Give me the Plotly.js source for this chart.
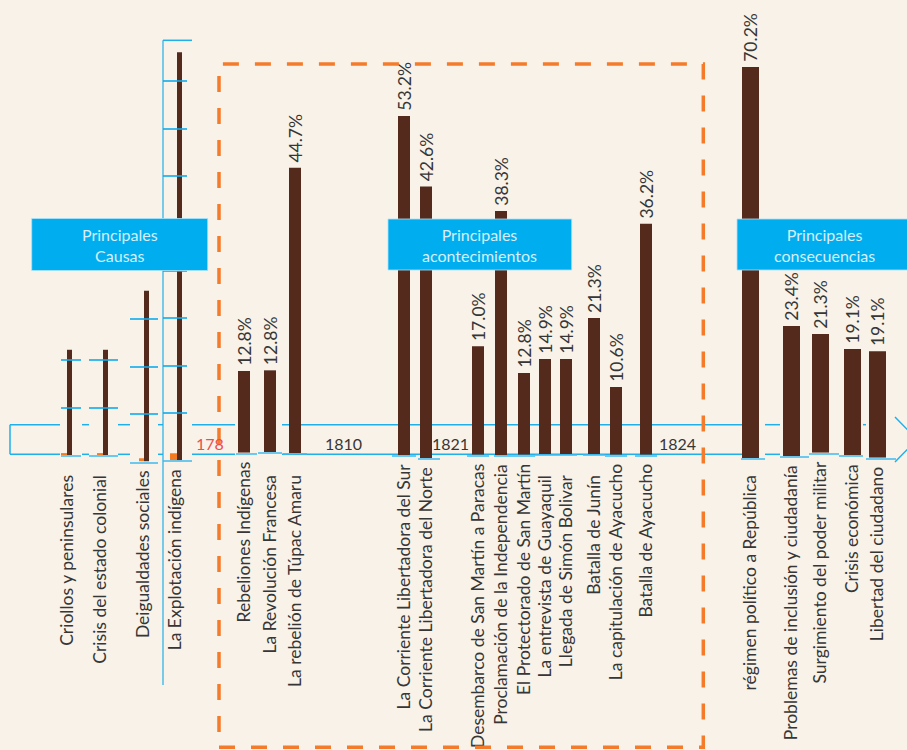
<!DOCTYPE html>
<html>
<head>
<meta charset="utf-8">
<script src="https://cdn.plot.ly/plotly-3.0.1.min.js"></script>
<style>
html,body{margin:0;padding:0;background:#f8f2e9;}
#chart{width:907px;height:750px;}
</style>
</head>
<body>
<div id="chart"></div>
<script>
// ---------------- DATA ----------------
const causeLabels = ['Criollos y peninsulares', 'Crisis del estado colonial', 'Deigualdades sociales', 'La Explotación indígena'];
const causeValues = [22.2, 22.2, 36.0, 86.1];
const causeMinorValues = [0.4, 0.4, 0.7, 1.5];

const eventLabels = ['Rebeliones Indígenas', 'La Revolución Francesa', 'La rebelión de Túpac Amaru',
  'La Corriente Libertadora del Sur', 'La Corriente Libertadora del Norte',
  'Desembarco de San Martín a Paracas', 'Proclamación de la Independencia', 'El Protectorado de San Martín',
  'La entrevista de Guayaquil', 'Llegada de Simón Bolivar', 'Batalla de Junín',
  'La capitulación de Ayacucho', 'Batalla de Ayacucho'];
const eventValues = [12.8, 12.8, 44.7, 53.2, 42.6, 17.0, 38.3, 12.8, 14.9, 14.9, 21.3, 10.6, 36.2];

const consLabels = ['régimen político a República', 'Problemas de inclusión y ciudadanía',
  'Surgimiento del poder militar', 'Crisis económica', 'Libertad del ciudadano'];
const consValues = [70.2, 23.4, 21.3, 19.1, 19.1];

const yearLabels = ['178', '1810', '1821', '1824'];
const groupTitles = ['Principales<br>Causas', 'Principales<br>acontecimientos', 'Principales<br>consecuencias'];

// ---------------- LAYOUT GEOMETRY (pixels) ----------------
const W = 907, H = 750, U = 24;
const X = p => p / W;
const Y = p => 1 - p / H;

const causeGeom = [
  {d:[61,81],   c:67,  base:455,   top:345,  minor:[61,67],   main:[67,72],   tl:20},
  {d:[89,118],  c:100, base:455,   top:345,  minor:[97,103],  main:[103,108], tl:29},
  {d:[130,158], c:143, base:461.5, top:285,  minor:[139,144], main:[144,149], tl:28},
  {d:[163,192], c:175, base:460.3, top:40.3, minor:[170,177], main:[177,182], tl:24}
];
const eventGeom = [
  {d:[236,257], bar:[238,250], base:452.7},
  {d:[258,282], bar:[264,276], base:452},
  {d:[283,307], bar:[289,301], base:453},
  {d:[392,416], bar:[398,410], base:455.3},
  {d:[418,440], bar:[420,432], base:458.3},
  {d:[467,489], bar:[472,484], base:454.7},
  {d:[494,514], bar:[495,507], base:455.3},
  {d:[514,535], bar:[518,530], base:454.7},
  {d:[535,556], bar:[539,551], base:454},
  {d:[556,577], bar:[560,572], base:454},
  {d:[583,605], bar:[588,600], base:454},
  {d:[605,627], bar:[610,622], base:454.7},
  {d:[635,657], bar:[640,652], base:454.7}
];
const consGeom = [
  {d:[741,765], bar:[742,759], base:458},
  {d:[780,809], bar:[783,800], base:456.3},
  {d:[809,839], bar:[812,829], base:452.7},
  {d:[839,863], bar:[844,861], base:455.3},
  {d:[866,896], bar:[869,886], base:457.7}
];

// ---------------- STYLE ----------------
const BG = '#f8f2e9';
const BROWN = '#532a1c';
const ORANGE = '#f47b20';
const BLUE = '#1fb0ea';
const AXIS_BLUE = 'rgba(60,185,240,0.75)';
const FONT = 'Lato, "Open Sans", sans-serif';
const TEXT = '#363636';
const LABEL_TOP = 467;
const STANDOFF_FIX = 1;

const traces = [];
const layout = {
  width: W, height: H,
  margin: {l:0, r:0, t:0, b:0, pad:0},
  paper_bgcolor: BG,
  plot_bgcolor: 'rgba(0,0,0,0)',
  showlegend: false,
  barmode: 'overlay',
  font: {family: FONT, color: TEXT},
  shapes: [],
  annotations: []
};

let n = 0;
function addPanel(label, geom, c, yTop, scale, causeOpts) {
  n += 1;
  const xa = n === 1 ? 'xaxis' : 'xaxis' + n;
  const ya = n === 1 ? 'yaxis' : 'yaxis' + n;
  const xr = n === 1 ? 'x' : 'x' + n;
  const yr = n === 1 ? 'y' : 'y' + n;
  layout[xa] = {
    domain: [X(geom.d[0]), X(geom.d[1])],
    range: [(geom.d[0] - c) / U, (geom.d[1] - c) / U],
    type: 'category',
    anchor: yr,
    showline: true, linecolor: AXIS_BLUE, linewidth: 2,
    showgrid: false, zeroline: false, ticks: '',
    tickangle: -90,
    tickfont: {family: FONT, size: 17.5, color: TEXT},
    ticklabelstandoff: Math.max(0, LABEL_TOP - geom.base - STANDOFF_FIX),
    automargin: false, fixedrange: true
  };
  const rmax = (geom.base - yTop) / scale;
  const yax = {
    domain: [Y(geom.base), Y(yTop)],
    range: [0, rmax],
    anchor: xr,
    showgrid: false, zeroline: false, automargin: false, fixedrange: true
  };
  if (causeOpts) {
    Object.assign(yax, {
      visible: true, showline: false, showticklabels: false,
      ticks: 'inside', ticklen: causeOpts.tl, tickwidth: 2,
      tickcolor: 'rgba(15,170,235,0.8)',
      tickmode: 'array', tickvals: [0,10,20,30,40,50,60,70,80]
    });
  } else {
    yax.visible = false;
  }
  layout[ya] = yax;
  return {xr, yr};
}

// Causes
causeLabels.forEach((lab, i) => {
  const g = causeGeom[i];
  const ax = addPanel(lab, g, g.c, g.top, 4.74, g);
  traces.push({
    type: 'bar', x: [lab], y: [causeMinorValues[i]], xaxis: ax.xr, yaxis: ax.yr,
    width: (g.minor[1] - g.minor[0]) / U, offset: (g.minor[0] - g.c) / U,
    marker: {color: ORANGE}, cliponaxis: false, hoverinfo: 'skip'
  });
  traces.push({
    type: 'bar', x: [lab], y: [causeValues[i]], xaxis: ax.xr, yaxis: ax.yr,
    width: (g.main[1] - g.main[0]) / U, offset: (g.main[0] - g.c) / U,
    marker: {color: BROWN}, cliponaxis: false, hoverinfo: 'skip'
  });
});

function valueBars(labels, values, geoms, scale, rmax) {
  labels.forEach((lab, i) => {
    const g = geoms[i];
    const c = (g.bar[0] + g.bar[1]) / 2;
    const ax = addPanel(lab, g, c, g.base - rmax * scale, scale, null);
    traces.push({
      type: 'bar', x: [lab], y: [values[i]], xaxis: ax.xr, yaxis: ax.yr,
      width: (g.bar[1] - g.bar[0]) / U, offset: (g.bar[0] - c) / U,
      marker: {color: BROWN},
      text: ['\u2009' + values[i].toFixed(1) + '%'], textposition: 'outside', textangle: -90,
      constraintext: 'none', cliponaxis: false,
      textfont: {family: FONT, size: 17.5, color: TEXT}, hoverinfo: 'skip'
    });
  });
}
valueBars(eventLabels, eventValues, eventGeom, 6.38, 62);
valueBars(consLabels, consValues, consGeom, 5.57, 76);

// ---------------- DECORATION ----------------
function line(x0, y0, x1, y1, color, width, layer, dash) {
  layout.shapes.push({type:'line', xref:'paper', yref:'paper',
    x0:X(x0), y0:Y(y0), x1:X(x1), y1:Y(y1),
    line:{color:color, width:width, dash:dash || 'solid'}, layer: layer || 'below'});
}
// timeline (double line with gaps)
const segs = [[10,60],[82,89],[118,130],[158,163],[192,235],[282,742],[765,780]];
segs.forEach(s => { line(s[0], 424.7, s[1], 424.7, BLUE, 1.5); line(s[0], 454.3, s[1], 454.3, BLUE, 1.5); });
line(863, 424.7, 866, 424.7, BLUE, 1.5);
line(10, 424.7, 10, 454.3, BLUE, 1.5);
layout.shapes.push({type:'path', xref:'paper', yref:'paper', layer:'below',
  path:`M ${X(895)},${Y(417)} L ${X(917)},${Y(439.5)} L ${X(895)},${Y(462)}`,
  line:{color:BLUE, width:1.5}});
// axis for La Explotación indígena
line(163, 40.3, 163, 685, BLUE, 1.2, 'below');
line(163, 40.3, 192, 40.3, BLUE, 1.5, 'below');

// dashed frame
layout.shapes.push({type:'rect', xref:'paper', yref:'paper', layer:'above',
  x0:X(219), y0:Y(747.3), x1:X(703.3), y1:Y(64),
  line:{color:'#f47b2a', width:3.5, dash:'16px,16px'}, fillcolor:'rgba(0,0,0,0)'});

// group boxes
const boxes = [[31.7,218.5,207.7,270.5,120],[388,219,571.7,270,479.5],[737,219,912,270,824]];
boxes.forEach((b, i) => {
  layout.shapes.push({type:'rect', xref:'paper', yref:'paper', layer:'above',
    x0:X(b[0]), y0:Y(b[3]), x1:X(b[2]), y1:Y(b[1]),
    fillcolor:'#00aeef', line:{color:'rgba(170,225,250,0.8)', width:1}});
  layout.annotations.push({xref:'paper', yref:'paper', x:X(b[4]), y:Y((b[1]+b[3])/2),
    xanchor:'center', yanchor:'middle', showarrow:false, text: groupTitles[i],
    font:{family:FONT, size:16, color:'#d6eef9'}});
});

// year marks
const yearPos = [[210,'#ee4d4d'],[343,TEXT],[450,TEXT],[677.5,TEXT]];
yearLabels.forEach((t, i) => {
  layout.annotations.push({xref:'paper', yref:'paper', x:X(yearPos[i][0]), y:Y(443),
    xanchor:'center', yanchor:'middle', showarrow:false, text:t,
    font:{family:FONT, size:16, color:yearPos[i][1]}});
});

Plotly.newPlot('chart', traces, layout, {staticPlot:true, displayModeBar:false});
</script>
</body>
</html>
